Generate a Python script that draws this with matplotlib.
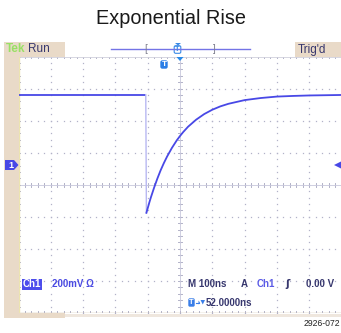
import matplotlib
matplotlib.use("Agg")
import matplotlib.pyplot as plt
import numpy as np
from matplotlib.patches import Rectangle, FancyBboxPatch, Polygon

# ---- data (time in ns relative to screen centre, Ch1 in mV) ----
time_ns = [-500, -400, -300, -200, -106, -104, -95, -90, -80, -70, -60, -50, -40, -25, -10,
           0, 10, 25, 50, 75, 100, 125, 150, 200, 250, 300, 350, 400, 500]
ch1_mV = [437, 437, 437, 437, 437, -300, -236, -203, -142, -86, -35, 10, 51, 105, 152,
          179, 204, 237, 281, 316, 343, 364, 380, 403, 416, 425, 429, 432, 435]
fall_index = 4          # index where the fast falling edge starts

title = "Exponential Rise"
ns_per_div = 100
mv_per_div = 200
center_mV = -125        # screen centre level relative to Ch1 ground

W, H = 341, 333
fig = plt.figure(figsize=(W / 100, H / 100), dpi=100)
fig.patch.set_facecolor("white")

FONT = ["Liberation Sans", "DejaVu Sans"]
TAN = "#e9dac8"
BLUE = "#4848e6"
DARK = "#37376e"
GRID = "#b2b2c8"

# grid area in pixels
gx0, gx1, gy0, gy1 = 18.5, 341.5, 56.5, 313.0
ax = fig.add_axes([gx0 / W, (H - gy1) / H, (gx1 - gx0) / W, (gy1 - gy0) / H])
xlo, xhi = -5 * ns_per_div, 5 * ns_per_div
ylo, yhi = center_mV - 4 * mv_per_div, center_mV + 4 * mv_per_div
ax.set_xlim(xlo, xhi)
ax.set_ylim(ylo, yhi)
ax.axis("off")

# graticule: dotted lines with 1/5 division dots
sub_x = ns_per_div / 5
sub_y = mv_per_div / 5
for i in range(1, 10):
    xv = xlo + i * ns_per_div
    ys = np.arange(ylo, yhi + 1e-6, sub_y)
    ax.plot(np.full_like(ys, xv), ys, ls="none", marker="s", ms=0.9, color=GRID, mec="none")
for j in range(1, 8):
    yv = ylo + j * mv_per_div
    xs = np.arange(xlo, xhi + 1e-6, sub_x)
    ax.plot(xs, np.full_like(xs, yv), ls="none", marker="s", ms=0.9, color=GRID, mec="none")
# centre axes with ticks
xs = np.arange(xlo, xhi + 1e-6, sub_x)
for xv in xs:
    ax.plot([xv, xv], [center_mV - 12, center_mV + 12], color=GRID, lw=0.7)
ax.plot([xlo, xhi], [center_mV, center_mV], color="#c8c8dc", lw=0.6)
ys = np.arange(ylo, yhi + 1e-6, sub_y)
for yv in ys:
    ax.plot([-6, 6], [yv, yv], color=GRID, lw=0.7)
ax.plot([0, 0], [ylo, yhi], color="#c8c8dc", lw=0.6)
# edge ticks
for xv in xs:
    ax.plot([xv, xv], [yhi, yhi - 12], color=GRID, lw=0.7)
    ax.plot([xv, xv], [ylo, ylo + 12], color=GRID, lw=0.7)
for yv in ys:
    ax.plot([xlo, xlo + 6], [yv, yv], color=GRID, lw=0.7)
ax.plot([xlo, xhi], [yhi, yhi], color="#d0d0dc", lw=0.6)
ax.plot([xlo, xhi], [ylo, ylo], color="#c8b8a0", lw=1.0)
ax.plot([xlo + 1, xlo + 1], [ylo, yhi], color="#ece4b0", lw=1.0)

# trace
t = np.array(time_ns)
v = np.array(ch1_mV)
ax.plot(t[:fall_index + 1], v[:fall_index + 1], color=BLUE, lw=1.3, solid_capstyle="butt")
ax.plot(t[fall_index:fall_index + 2], v[fall_index:fall_index + 2], color="#b8b8f2", lw=1.0)
ax.plot(t[fall_index + 1:], v[fall_index + 1:], color=BLUE, lw=1.3)

# ---- UI overlay in pixel coordinates ----
ui = fig.add_axes([0, 0, 1, 1], zorder=5)
ui.set_xlim(0, W)
ui.set_ylim(H, 0)
ui.axis("off")
ui.patch.set_alpha(0)

ui.text(171, 18, title, ha="center", va="center", fontsize=14.3, family=FONT, color="#1a1a1a")

# tan frame parts
ui.add_patch(Rectangle((4, 42), 61, 14.5, color=TAN, lw=0))
ui.add_patch(Rectangle((295, 42), 46, 14.5, color=TAN, lw=0))
ui.add_patch(Rectangle((4, 42), 14.5, 276, color=TAN, lw=0))
ui.add_patch(Rectangle((4, 313), 61, 5, color=TAN, lw=0))
ui.add_patch(Rectangle((65, 313.5), 276, 3, color="#efe7de", lw=0))

ui.text(5.5, 49.5, "Tek", ha="left", va="center", fontsize=8.5, family=FONT, color="#98e064",
        fontweight="bold")
ui.text(28, 49.5, "Run", ha="left", va="center", fontsize=8.5, family=FONT, color=DARK)
ui.text(298, 49.5, "Trig'd", ha="left", va="center", fontsize=8.5, family=FONT, color=DARK)

# record bar
ui.plot([111, 250], [49, 49], color="#7474e6", lw=1.0)
ui.text(146, 49, "[", ha="center", va="center", fontsize=7, family=FONT, color="#808090")
ui.text(214, 49, "]", ha="center", va="center", fontsize=7, family=FONT, color="#808090")
ui.add_patch(Polygon([(175, 43), (181, 43), (178, 45.5)], closed=True, color="#3a8ae6", lw=0))
ui.add_patch(FancyBboxPatch((174.5, 46), 6, 7, boxstyle="round,pad=0.3,rounding_size=1.5",
                            fc="white", ec="#3a8ae6", lw=0.8))
ui.text(177.5, 49.7, "T", ha="center", va="center", fontsize=5.5, family=FONT, color="#3a8ae6",
        fontweight="bold")

# trigger markers on grid
ui.add_patch(Polygon([(176.5, 57), (183.5, 57), (180, 61)], closed=True, color="#2a8ae8", lw=0))
ui.add_patch(FancyBboxPatch((160.5, 60.5), 7, 8, boxstyle="round,pad=0.2,rounding_size=2",
                            fc="#2a7ee6", ec="none"))
ui.text(164, 64.7, "T", ha="center", va="center", fontsize=6, family=FONT, color="white",
        fontweight="bold")

# channel ground marker and trigger level marker
ui.add_patch(Polygon([(5, 160), (14, 160), (18.5, 165), (14, 170), (5, 170)], closed=True,
                     color=BLUE, lw=0))
ui.text(10.5, 165.3, "1", ha="center", va="center", fontsize=6.5, family=FONT, color="white",
        fontweight="bold")
ui.add_patch(Polygon([(341, 161.5), (334, 165), (341, 168.5)], closed=True, color=BLUE, lw=0))

# bottom readouts
ui.add_patch(Rectangle((21.5, 278.5), 20.5, 11, color="#4d4dec", lw=0))
ui.text(31.7, 284.3, "Ch1", ha="center", va="center", fontsize=7, family=FONT, color="white",
        fontweight="bold")
ui.text(52, 284.3, "200mV Ω", ha="left", va="center", fontsize=7, family=FONT, color="#4a4ae2",
        fontweight="bold")
ui.text(188, 284.3, "M 100ns", ha="left", va="center", fontsize=7, family=FONT, color=DARK,
        fontweight="bold")
ui.text(241, 284.3, "A", ha="left", va="center", fontsize=7, family=FONT, color=DARK,
        fontweight="bold")
ui.text(257, 284.3, "Ch1", ha="left", va="center", fontsize=7, family=FONT, color="#5a5ae6",
        fontweight="bold")
ui.text(285, 284.3, "ʃ", ha="left", va="center", fontsize=7.5, family=["DejaVu Sans"], color=DARK,
        fontweight="bold")
ui.text(306, 284.3, "0.00 V", ha="left", va="center", fontsize=7, family=FONT, color=DARK,
        fontweight="bold")

ui.add_patch(FancyBboxPatch((188.5, 298.5), 6, 8, boxstyle="round,pad=0.2,rounding_size=1.5",
                            fc="#3a7ee8", ec="none"))
ui.text(191.6, 302.7, "T", ha="center", va="center", fontsize=5.5, family=FONT, color="white",
        fontweight="bold")
ui.plot([195.5, 199], [302.5, 302.5], color="#3a7ee8", lw=0.8)
ui.add_patch(Polygon([(198.5, 300.5), (200, 302.5), (198.5, 304.5)], closed=True, color="#3a7ee8", lw=0))
ui.add_patch(Polygon([(200.5, 300), (205, 300), (202.75, 304.5)], closed=True, color="#3a7ee8", lw=0))
ui.text(206, 303, "52.0000ns", ha="left", va="center", fontsize=7, family=FONT, color=DARK,
        fontweight="bold")

ui.text(340, 324, "2926-072", ha="right", va="center", fontsize=6.2, family=FONT, color="#222222")

fig.savefig("out.png", dpi=100, facecolor="white")
